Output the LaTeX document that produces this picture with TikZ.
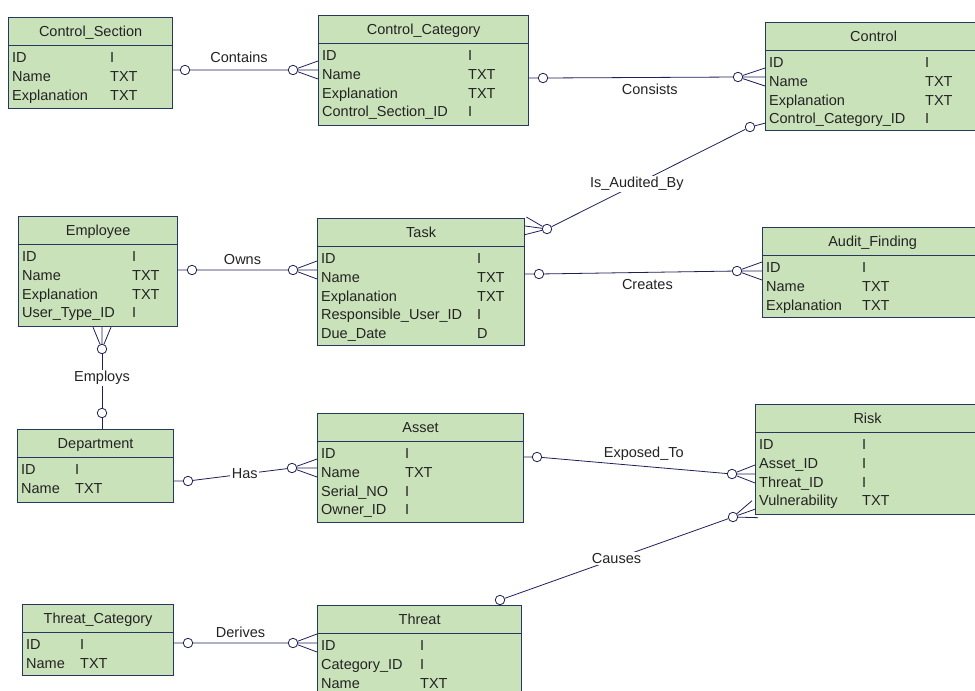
\documentclass[tikz,border=0pt]{standalone}
\usepackage{fontspec}
\setmainfont{Liberation Sans}
\usetikzlibrary{calc}

\definecolor{boxfill}{RGB}{202,226,186}
\definecolor{boxedge}{RGB}{38,56,98}
\definecolor{relline}{RGB}{32,32,88}
\definecolor{ink}{RGB}{35,35,35}

\begin{document}
\begin{tikzpicture}[
    x=1pt, y=-1pt,
    every node/.style={font=\fontsize{14.5}{17}\selectfont, text=ink},
    entity/.style={draw=boxedge, fill=boxfill, line width=1.2pt, anchor=north west, inner sep=0pt},
    divider/.style={draw=boxedge, line width=1pt},
    title/.style={inner sep=0pt, text height=10.4pt, text depth=0pt},
    attr/.style={anchor=west, inner sep=0pt, text height=10.4pt, text depth=0pt},
    knot/.style={circle, draw=relline, fill=white, line width=0.8pt, inner sep=0pt, minimum size=9.5pt},
    rel/.style={draw=relline, line width=0.8pt},
    lbl/.style={inner sep=1.5pt},
    crow/.style={to path={-- (\tikztotarget)
        (\tikztostart) -- ($(\tikztotarget)!9pt!90:(\tikztostart)$)
        (\tikztostart) -- ($(\tikztotarget)!9pt!-90:(\tikztostart)$)}}
]
\fill[white] (0,0) rectangle (975,691);
\useasboundingbox (0,0) rectangle (975,691);
\clip (0,0) rectangle (975,691);

% tables
\foreach \nm/\x/\y/\w/\h/\ttl in {
    csec/8/17/164/91/Control\_Section,
    ccat/318/15/210/110/Control\_Category,
    ctrl/765/22/216/108/Control,
    emp/18/216/159/110/Employee,
    task/317/218/207/127/Task,
    audit/762/227/220/90/Audit\_Finding,
    dept/17/429/156/73/Department,
    asset/317/413/206/109/Asset,
    risk/755/404/224/110/Risk,
    tcat/22/604/151/71/Threat\_Category,
    threat/317/605/204/100/Threat}
{
    \node[entity, minimum width=\w, minimum height=\h] (\nm) at (\x,\y) {};
    \draw[divider] ([yshift=-28pt]\nm.north west) -- ([yshift=-28pt]\nm.north east);
    \node[title] at ([yshift=-14.5pt]\nm.north) {\ttl};
}

% columns
\foreach \nm/\tc/\rows in {
    csec/102/{ID/I, Name/TXT, Explanation/TXT},
    ccat/150/{ID/I, Name/TXT, Explanation/TXT, Control\_Section\_ID/I},
    ctrl/160/{ID/I, Name/TXT, Explanation/TXT, Control\_Category\_ID/I},
    emp/114/{ID/I, Name/TXT, Explanation/TXT, User\_Type\_ID/I},
    task/160/{ID/I, Name/TXT, Explanation/TXT, Responsible\_User\_ID/I, Due\_Date/D},
    audit/100/{ID/I, Name/TXT, Explanation/TXT},
    dept/58/{ID/I, Name/TXT},
    asset/88/{ID/I, Name/TXT, Serial\_NO/I, Owner\_ID/I},
    risk/107/{ID/I, Asset\_ID/I, Threat\_ID/I, Vulnerability/TXT},
    tcat/58/{ID/I, Name/TXT},
    threat/103/{ID/I, Category\_ID/I, Name/TXT}}
{
    \foreach \fld/\typ [count=\i] in \rows {
        \node[attr] at ([xshift=4, yshift={-40.5-18.7*(\i-1)}]\nm.north west) {\fld};
        \node[attr] at ([xshift=\tc, yshift={-40.5-18.7*(\i-1)}]\nm.north west) {\typ};
    }
}

% optional ends
\foreach \k/\p in {c1/{185,70}, c2/{293,70}, c3/{543,78}, c4/{738,77},
    c5/{750,127}, c6/{547,229}, c7/{192,270}, c8/{293,270},
    c9/{539,274}, c10/{737,271}, c11/{102,349}, c12/{102,413},
    c13/{188,481}, c14/{292,468}, c15/{537,457}, c16/{732,474},
    c17/{733,517}, c18/{500,600}, c19/{188,643}, c20/{293,643}}
    \node[knot] (\k) at (\p) {};

% relationships
\draw[rel] (csec.east |- c1) -- (c1) -- node[lbl, above=5pt] {Contains} (c2) to[crow] (ccat.west |- c2);
\draw[rel] (ccat.east |- c3) -- (c3) -- node[lbl, below=5pt, pos=0.55] {Consists} (c4) to[crow] (ctrl.west |- c4);
\draw[rel] ([yshift=8pt]ctrl.south west) -- (c5) -- node[lbl, fill=white, pos=0.56] {Is\_Audited\_By} (c6) to[crow] ([yshift=-8pt]task.north east);
\draw[rel] (emp.east |- c7) -- (c7) -- node[lbl, above=3pt] {Owns} (c8) to[crow] (task.west |- c8);
\draw[rel] (task.east |- c9) -- (c9) -- node[lbl, below=5pt, pos=0.55] {Creates} (c10) to[crow] (audit.west |- c10);
\draw[rel] (c11) to[crow] (emp.south -| c11);
\draw[rel] (c11) -- node[lbl, fill=white, pos=0.44] {Employs} (c12) -- (dept.north -| c12);
\draw[rel] (dept.east |- c13) -- (c13) -- node[lbl, fill=white, pos=0.55] {Has} (c14) to[crow] (asset.west |- c14);
\draw[rel] (asset.east |- c15) -- (c15) -- node[lbl, above=4pt, pos=0.55] {Exposed\_To} (c16) to[crow] (risk.west |- c16);
\draw[rel] (threat.north -| c18) -- (c18) -- node[lbl, fill=white, pos=0.5] {Causes} (c17) to[crow] ([yshift=6pt]risk.south west);
\draw[rel] (tcat.east |- c19) -- (c19) -- node[lbl, above=3pt] {Derives} (c20) to[crow] (threat.west |- c20);
\end{tikzpicture}
\end{document}
